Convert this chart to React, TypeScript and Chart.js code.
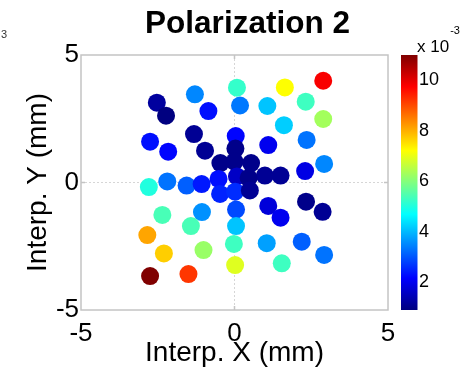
import React, { useEffect, useRef } from "react";
import { Chart, registerables } from "chart.js";

Chart.register(...registerables);

const TITLE = "Polarization 2";
const X_LABEL = "Interp. X (mm)";
const Y_LABEL = "Interp. Y (mm)";
const AXIS_TICKS = [-5, 0, 5];
const COLORBAR_TICKS = [2, 4, 6, 8, 10];
const COLORBAR_EXPONENT = "-3";
const COLOR_MIN = 0.9;
const COLOR_MAX = 11;

// positions in mm
const xs = [
  -2.53, -2.23, -1.29, -0.85, 0.08, 0.18, -1.32, -2.75, -2.16, -0.96,
  -0.46, 1.64, 2.89, 1.07, 2.32, 2.89, 1.61, 0.04, 1.1, 2.35,
  0.03, 0.0, 0.54, 0.99, 1.5, 2.3, 2.92, -0.52, 0.08, 0.46,
  -2.79, -2.19, -1.56, -1.07, -0.47, 0.02, 0.5, 1.1, 1.5, 2.33,
  2.87, 0.05, 0.05, -0.02, 0.02, 1.05, 2.19, 1.54, 2.92, -1.06,
  -2.35, -1.42, -2.84, -2.3, -1.01, -2.75, -1.5,
];
const ys = [
  3.13, 2.62, 3.46, 2.8, 3.72, 3.02, 1.9, 1.6, 1.21, 1.25,
  0.76, 3.73, 3.99, 3.0, 3.17, 2.49, 2.25, 1.82, 1.47, 1.67,
  1.33, 0.82, 0.76, 0.27, 0.27, 0.45, 0.73, 0.14, 0.24, 0.18,
  -0.18, 0.04, -0.12, -0.06, -0.45, -0.36, -0.31, -0.92, -1.38, -0.75,
  -1.15, -1.06, -1.71, -2.41, -3.24, -2.38, -2.32, -3.17, -2.84, -1.16,
  -1.27, -1.71, -2.06, -2.78, -2.65, -3.67, -3.59,
];
// values (x 10^-3)
const values = [
  1.2, 0.9, 3.5, 2.3, 5.2, 3.35, 1.1, 2.3, 2.2, 1.1,
  1.0, 7.2, 9.8, 4.1, 5.3, 6.3, 4.2, 2.2, 2.0, 3.3,
  1.0, 1.0, 1.0, 1.1, 1.1, 1.9, 3.5, 2.3, 1.6, 1.0,
  5.0, 3.3, 3.1, 2.4, 2.5, 2.6, 1.1, 1.8, 2.0, 1.0,
  1.1, 2.9, 4.1, 5.3, 6.9, 3.75, 3.1, 5.3, 3.3, 3.6,
  5.4, 5.4, 8.1, 7.7, 6.2, 11.0, 9.2,
];

const FONT = "'Liberation Sans', Arial, sans-serif";

function clamp01(v: number) {
  return Math.max(0, Math.min(1, v));
}
function jet(t: number) {
  const r = clamp01(1.5 - Math.abs(4 * t - 3));
  const g = clamp01(1.5 - Math.abs(4 * t - 2));
  const b = clamp01(1.5 - Math.abs(4 * t - 1));
  return `rgb(${Math.round(r * 255)},${Math.round(g * 255)},${Math.round(b * 255)})`;
}
function colorFor(v: number) {
  return jet(clamp01((v - COLOR_MIN) / (COLOR_MAX - COLOR_MIN)));
}

const decorPlugin = {
  id: "decor",
  beforeDatasetsDraw(chart: any) {
    const ctx = chart.ctx;
    const a = chart.chartArea;
    const xS = chart.scales.x;
    const yS = chart.scales.y;
    ctx.save();
    // plot box
    ctx.strokeStyle = "#c4c4c4";
    ctx.lineWidth = 1.5;
    ctx.strokeRect(a.left, a.top, a.right - a.left, a.bottom - a.top);
    // inner tick marks at 0
    ctx.beginPath();
    const x0 = xS.getPixelForValue(0);
    const y0 = yS.getPixelForValue(0);
    ctx.moveTo(x0, a.top);
    ctx.lineTo(x0, a.top + 4);
    ctx.moveTo(x0, a.bottom);
    ctx.lineTo(x0, a.bottom - 4);
    ctx.moveTo(a.left, y0);
    ctx.lineTo(a.left + 4, y0);
    ctx.moveTo(a.right, y0);
    ctx.lineTo(a.right - 4, y0);
    ctx.stroke();
    // colorbar
    const cb = chart.scales.cb;
    const top = cb.getPixelForValue(COLOR_MAX);
    const bot = cb.getPixelForValue(COLOR_MIN);
    const g = ctx.createLinearGradient(0, bot, 0, top);
    for (let i = 0; i <= 64; i++) {
      g.addColorStop(i / 64, jet(i / 64));
    }
    ctx.fillStyle = g;
    ctx.fillRect(cb.left + 13, top, 16.5, bot - top);
    ctx.restore();
  },
  afterDraw(chart: any) {
    const ctx = chart.ctx;
    const cb = chart.scales.cb;
    ctx.save();
    ctx.fillStyle = "#000";
    ctx.textBaseline = "alphabetic";
    ctx.textAlign = "center";
    ctx.font = `bold 31.5px ${FONT}`;
    ctx.fillText(TITLE, 247.5, 33);
    ctx.textAlign = "left";
    ctx.font = `17px ${FONT}`;
    const base = "x 10";
    const bx = cb.left + 29;
    ctx.fillText(base, bx, 52);
    const w = ctx.measureText(base).width;
    ctx.font = `11px ${FONT}`;
    ctx.fillText(COLORBAR_EXPONENT, bx + w + 1, 34);
    // clipped superscript from a neighbouring panel
    ctx.fillStyle = "#333";
    ctx.fillText("3", 1, 38);
    ctx.restore();
  },
};

export default function App() {
  const ref = useRef<HTMLCanvasElement | null>(null);
  useEffect(() => {
    if (!ref.current) return;
    const chart = new Chart(ref.current, {
      type: "scatter",
      data: {
        datasets: [
          {
            data: xs.map((x, i) => ({ x, y: ys[i] })),
            pointBackgroundColor: values.map(colorFor),
            pointBorderColor: values.map(colorFor),
            pointBorderWidth: 0,
            pointRadius: 9,
            pointHoverRadius: 9,
          },
        ],
      },
      options: {
        responsive: false,
        animation: false,
        events: [],
        layout: { padding: { top: 55, left: 0, right: 0, bottom: 0 } },
        plugins: {
          legend: { display: false },
          tooltip: { enabled: false },
          title: { display: false },
        },
        scales: {
          x: {
            type: "linear",
            min: -5,
            max: 5,
            afterBuildTicks: (s: any) => {
              s.ticks = AXIS_TICKS.map((v) => ({ value: v }));
            },
            afterFit: (s: any) => {
              s.height = 61;
            },
            grid: {
              drawTicks: false,
              lineWidth: 1,
              color: (c: any) => (c.tick && c.tick.value === 0 ? "#d6d6d6" : "rgba(0,0,0,0)"),
            },
            border: { display: false, dash: [2, 2] },
            ticks: {
              color: "#000",
              padding: 8,
              font: { family: FONT, size: 26 },
              maxRotation: 0,
              autoSkip: false,
            },
            title: {
              display: true,
              text: X_LABEL,
              color: "#000",
              font: { family: FONT, size: 28 },
              padding: { top: 0, bottom: 1 },
            },
          },
          y: {
            type: "linear",
            min: -5,
            max: 5,
            afterBuildTicks: (s: any) => {
              s.ticks = AXIS_TICKS.map((v) => ({ value: v }));
            },
            afterFit: (s: any) => {
              s.width = 81;
            },
            grid: {
              drawTicks: false,
              lineWidth: 1,
              color: (c: any) => (c.tick && c.tick.value === 0 ? "#d6d6d6" : "rgba(0,0,0,0)"),
            },
            border: { display: false, dash: [2, 2] },
            ticks: {
              color: "#000",
              padding: 2,
              font: { family: FONT, size: 26 },
              autoSkip: false,
            },
            title: {
              display: true,
              text: Y_LABEL,
              color: "#000",
              font: { family: FONT, size: 28 },
              padding: { top: 21, bottom: 0 },
            },
          },
          cb: {
            type: "linear",
            position: "right",
            min: COLOR_MIN,
            max: COLOR_MAX,
            afterBuildTicks: (s: any) => {
              s.ticks = COLORBAR_TICKS.map((v) => ({ value: v }));
            },
            afterFit: (s: any) => {
              s.width = 87;
            },
            grid: { display: false, drawTicks: false },
            border: { display: false },
            ticks: {
              color: "#000",
              padding: 31,
              font: { family: FONT, size: 18 },
              autoSkip: false,
            },
          },
        },
      } as any,
      plugins: [decorPlugin],
    });
    return () => chart.destroy();
  }, []);
  return (
    <div style={{ position: "absolute", left: 0, top: 0, width: 475, height: 371, background: "#fff" }}>
      <canvas ref={ref} width={475} height={371} style={{ display: "block" }} />
    </div>
  );
}
